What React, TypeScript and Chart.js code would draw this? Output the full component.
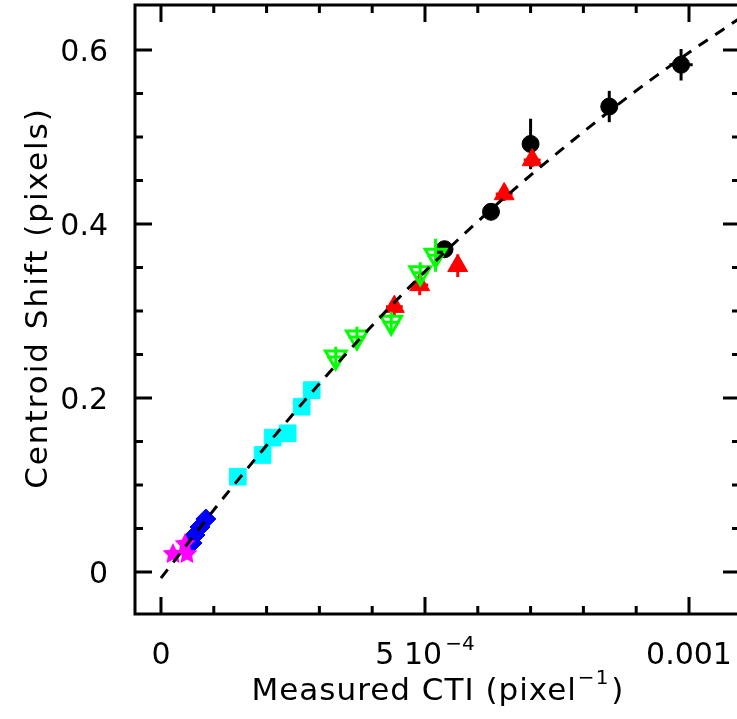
import React, { useEffect, useRef } from "react";
import { Chart, registerables } from "chart.js";

Chart.register(...registerables);

const FONT_FAMILY = '"DejaVu Sans", "Liberation Sans", sans-serif';

// axis ranges (data units)
const X_MIN = -0.0000492;
const X_MAX = 0.0010966;
const Y_MIN = -0.0483;
const Y_MAX = 0.6517;

// ticks
const xMajorTicks = [0, 0.0005, 0.001];
const xMinorTicks = [0.0001, 0.0002, 0.0003, 0.0004, 0.0006, 0.0007, 0.0008, 0.0009];
const yMajorTicks = [0, 0.2, 0.4, 0.6];
const yMinorTicks = [0.05, 0.1, 0.15, 0.25, 0.3, 0.35, 0.45, 0.5, 0.55];
const xTickText = ["0", "5 10", "0.001"];
const xTickSup = ["", "\u22124", ""];
const yTickText = ["0", "0.2", "0.4", "0.6"];
const xTitleText = "Measured CTI (pixel";
const xTitleSup = "\u22121";
const xTitleEnd = ")";
const yTitleText = "Centroid Shift (pixels)";

// black filled circles
const circleX = [0.000537, 0.000625, 0.0007, 0.000849, 0.000985];
const circleY = [0.371, 0.414, 0.492, 0.535, 0.583];
const circleXErr = [0, 0, 0, 0, 0.000022];
const circleYErr = [0.006, 0.006, 0.029, 0.018, 0.018];

// red filled triangles
const redX = [0.000442, 0.00049, 0.000562, 0.00065, 0.000703];
const redY = [0.305, 0.33, 0.352, 0.4345, 0.4736];
const redXErr = [0.000016, 0.000016, 0.000012, 0.000016, 0.000016];
const redYErr = [0.01, 0.012, 0.013, 0.008, 0.008];

// green open inverted triangles
const greenX = [0.000331, 0.000371, 0.000436, 0.000491, 0.00052];
const greenY = [0.247, 0.27, 0.287, 0.344, 0.364];
const greenXErr = [0.000016, 0.000016, 0.000016, 0.000016, 0.000016];
const greenYErr = [0.012, 0.012, 0.012, 0.012, 0.019];

// cyan squares
const cyanX = [0.0001455, 0.0001925, 0.0002115, 0.00024, 0.0002665, 0.0002855];
const cyanY = [0.1095, 0.1345, 0.1544, 0.1594, 0.19, 0.209];

// blue diamonds
const blueX = [0.000085, 0.0000739, 0.0000644, 0.0000587];
const blueY = [0.0609, 0.0517, 0.0425, 0.0333];

// magenta stars
const magentaX = [0.0000227, 0.0000492, 0.0000454];
const magentaY = [0.0207, 0.0207, 0.0322];

// dashed fit curve
const fitX = [0, 0.00013, 0.00036, 0.000575, 0.00085, 0.001, 0.0011];
const fitY = [-0.007, 0.094, 0.257, 0.389, 0.53, 0.597, 0.638];

const toPoints = (xs: number[], ys: number[]) => xs.map((x, i) => ({ x, y: ys[i] }));

function makeStar(color: string, outerR: number, innerR: number) {
  const size = Math.ceil(outerR * 2 + 2);
  const c = document.createElement("canvas");
  c.width = size;
  c.height = size;
  const g = c.getContext("2d")!;
  g.beginPath();
  for (let i = 0; i < 10; i++) {
    const r = i % 2 === 0 ? outerR : innerR;
    const ang = -Math.PI / 2 + (i * Math.PI) / 5;
    const px = size / 2 + r * Math.cos(ang);
    const py = size / 2 + r * Math.sin(ang);
    if (i === 0) g.moveTo(px, py);
    else g.lineTo(px, py);
  }
  g.closePath();
  g.fillStyle = color;
  g.fill();
  return c;
}

const errorBarPlugin = {
  id: "errorBars",
  beforeDatasetDraw(chart: any, args: any) {
    const ds = chart.data.datasets[args.index];
    const eb = ds.errorBars;
    if (!eb) return;
    const { ctx } = chart;
    const xs = chart.scales.x;
    const ys = chart.scales.y;
    ctx.save();
    ctx.strokeStyle = eb.color;
    ctx.lineWidth = 3;
    ctx.lineCap = "butt";
    ds.data.forEach((p: any, i: number) => {
      const px = xs.getPixelForValue(p.x);
      const py = ys.getPixelForValue(p.y);
      const ex = eb.x[i];
      const ey = eb.y[i];
      ctx.beginPath();
      if (ey) {
        ctx.moveTo(px, ys.getPixelForValue(p.y - ey));
        ctx.lineTo(px, ys.getPixelForValue(p.y + ey));
      }
      if (ex) {
        ctx.moveTo(xs.getPixelForValue(p.x - ex), py);
        ctx.lineTo(xs.getPixelForValue(p.x + ex), py);
      }
      ctx.stroke();
    });
    ctx.restore();
  },
};

const FS = 30;
const TITLE_FS = 31;
const SUP_FS = 20;

const axesPlugin = {
  id: "axesFrame",
  afterDraw(chart: any) {
    const { ctx, chartArea: a } = chart;
    const xs = chart.scales.x;
    const ys = chart.scales.y;
    ctx.save();
    ctx.strokeStyle = "#000";
    ctx.fillStyle = "#000";
    ctx.lineWidth = 3;
    ctx.strokeRect(a.left, a.top, a.right - a.left, a.bottom - a.top);

    const MAJ = 17;
    const MIN = 8;
    ctx.beginPath();
    const xTick = (v: number, len: number) => {
      const px = xs.getPixelForValue(v);
      if (px <= a.left + 1 || px >= a.right - 1) return;
      ctx.moveTo(px, a.bottom);
      ctx.lineTo(px, a.bottom - len);
      ctx.moveTo(px, a.top);
      ctx.lineTo(px, a.top + len);
    };
    const yTick = (v: number, len: number) => {
      const py = ys.getPixelForValue(v);
      if (py <= a.top + 1 || py >= a.bottom - 1) return;
      ctx.moveTo(a.left, py);
      ctx.lineTo(a.left + len, py);
      ctx.moveTo(a.right, py);
      ctx.lineTo(a.right - len, py);
    };
    xMajorTicks.forEach((v) => xTick(v, MAJ));
    xMinorTicks.forEach((v) => xTick(v, MIN));
    yMajorTicks.forEach((v) => yTick(v, MAJ));
    yMinorTicks.forEach((v) => yTick(v, MIN));
    ctx.stroke();

    // y tick labels
    ctx.font = `${FS}px ${FONT_FAMILY}`;
    ctx.textAlign = "right";
    ctx.textBaseline = "alphabetic";
    yMajorTicks.forEach((v, i) => {
      const py = ys.getPixelForValue(v);
      ctx.fillText(yTickText[i], a.left - 27, py + 11);
    });

    // x tick labels
    ctx.textAlign = "left";
    const xBase = a.bottom + 50;
    xMajorTicks.forEach((v, i) => {
      const px = xs.getPixelForValue(v);
      ctx.font = `${FS}px ${FONT_FAMILY}`;
      const wMain = ctx.measureText(xTickText[i]).width;
      ctx.font = `${SUP_FS}px ${FONT_FAMILY}`;
      const wSup = xTickSup[i] ? ctx.measureText(xTickSup[i]).width + 3 : 0;
      const start = px - (wMain + wSup) / 2;
      ctx.font = `${FS}px ${FONT_FAMILY}`;
      ctx.fillText(xTickText[i], start, xBase);
      if (xTickSup[i]) {
        ctx.font = `${SUP_FS}px ${FONT_FAMILY}`;
        ctx.fillText(xTickSup[i], start + wMain + 3, xBase - 14);
      }
    });

    // x title
    const tBase = a.bottom + 86;
    ctx.letterSpacing = "1px";
    ctx.font = `${TITLE_FS}px ${FONT_FAMILY}`;
    const w1 = ctx.measureText(xTitleText).width;
    const w3 = ctx.measureText(xTitleEnd).width;
    ctx.font = `${SUP_FS}px ${FONT_FAMILY}`;
    const w2 = ctx.measureText(xTitleSup).width + 2;
    const cx = (a.left + a.right) / 2;
    let sx = cx - (w1 + w2 + w3) / 2;
    ctx.font = `${TITLE_FS}px ${FONT_FAMILY}`;
    ctx.fillText(xTitleText, sx, tBase);
    sx += w1 + 1;
    ctx.font = `${SUP_FS}px ${FONT_FAMILY}`;
    ctx.fillText(xTitleSup, sx, tBase - 16);
    sx += w2;
    ctx.font = `${TITLE_FS}px ${FONT_FAMILY}`;
    ctx.fillText(xTitleEnd, sx, tBase);

    // y title
    ctx.save();
    ctx.letterSpacing = "2px";
    ctx.translate(47, 298);
    ctx.rotate(-Math.PI / 2);
    ctx.textAlign = "center";
    ctx.font = `${TITLE_FS}px ${FONT_FAMILY}`;
    ctx.fillText(yTitleText, 0, 0);
    ctx.restore();

    ctx.restore();
  },
};

export default function App() {
  const ref = useRef<HTMLCanvasElement | null>(null);
  useEffect(() => {
    if (!ref.current) return;
    const star = makeStar("#ff00ff", 11, 5.4);
    const chart = new Chart(ref.current, {
      type: "scatter",
      data: {
        datasets: [
          {
            label: "fit",
            data: toPoints(fitX, fitY),
            showLine: true,
            borderColor: "#000",
            borderWidth: 3,
            borderDash: [11, 9],
            pointRadius: 0,
            fill: false,
            cubicInterpolationMode: "monotone",
          },
          {
            label: "stars",
            data: toPoints(magentaX, magentaY),
            pointStyle: star,
            pointRadius: 11,
            pointBackgroundColor: "#ff00ff",
            pointBorderColor: "#ff00ff",
          },
          {
            label: "diamonds",
            data: toPoints(blueX, blueY),
            pointStyle: "rectRot",
            pointRadius: 10,
            pointBackgroundColor: "#0000ff",
            pointBorderColor: "#0000ff",
            pointBorderWidth: 1,
          },
          {
            label: "squares",
            data: toPoints(cyanX, cyanY),
            pointStyle: "rect",
            pointRadius: 11.8,
            pointBackgroundColor: "#00ffff",
            pointBorderColor: "#00ffff",
            pointBorderWidth: 1,
          },
          {
            label: "open triangles",
            data: toPoints(greenX, greenY),
            pointStyle: "triangle",
            pointRotation: 180,
            pointRadius: 12,
            pointBackgroundColor: "rgba(0,0,0,0)",
            pointBorderColor: "#00ff00",
            pointBorderWidth: 3,
            errorBars: { x: greenXErr, y: greenYErr, color: "#00ff00" },
          },
          {
            label: "triangles",
            data: toPoints(redX, redY),
            pointStyle: "triangle",
            pointRadius: 11.5,
            pointBackgroundColor: "#ff0000",
            pointBorderColor: "#ff0000",
            pointBorderWidth: 1,
            errorBars: { x: redXErr, y: redYErr, color: "#ff0000" },
          },
          {
            label: "circles",
            data: toPoints(circleX, circleY),
            pointStyle: "circle",
            pointRadius: 8.5,
            pointBackgroundColor: "#000",
            pointBorderColor: "#000",
            pointBorderWidth: 1,
            errorBars: { x: circleXErr, y: circleYErr, color: "#000" },
          },
        ] as any,
      },
      options: {
        animation: false,
        responsive: false,
        devicePixelRatio: 1,
        layout: { autoPadding: false, padding: { left: 135, right: 5, top: 5, bottom: 105 } },
        scales: {
          x: { type: "linear", min: X_MIN, max: X_MAX, display: false },
          y: { type: "linear", min: Y_MIN, max: Y_MAX, display: false },
        },
        plugins: {
          legend: { display: false },
          tooltip: { enabled: false },
        },
      },
      plugins: [errorBarPlugin, axesPlugin],
    } as any);
    return () => chart.destroy();
  }, []);
  return (
    <div style={{ position: "fixed", left: 0, top: 0, width: 745, height: 719, background: "#fff" }}>
      <canvas ref={ref} width={745} height={719} style={{ width: 745, height: 719, display: "block" }} />
    </div>
  );
}
